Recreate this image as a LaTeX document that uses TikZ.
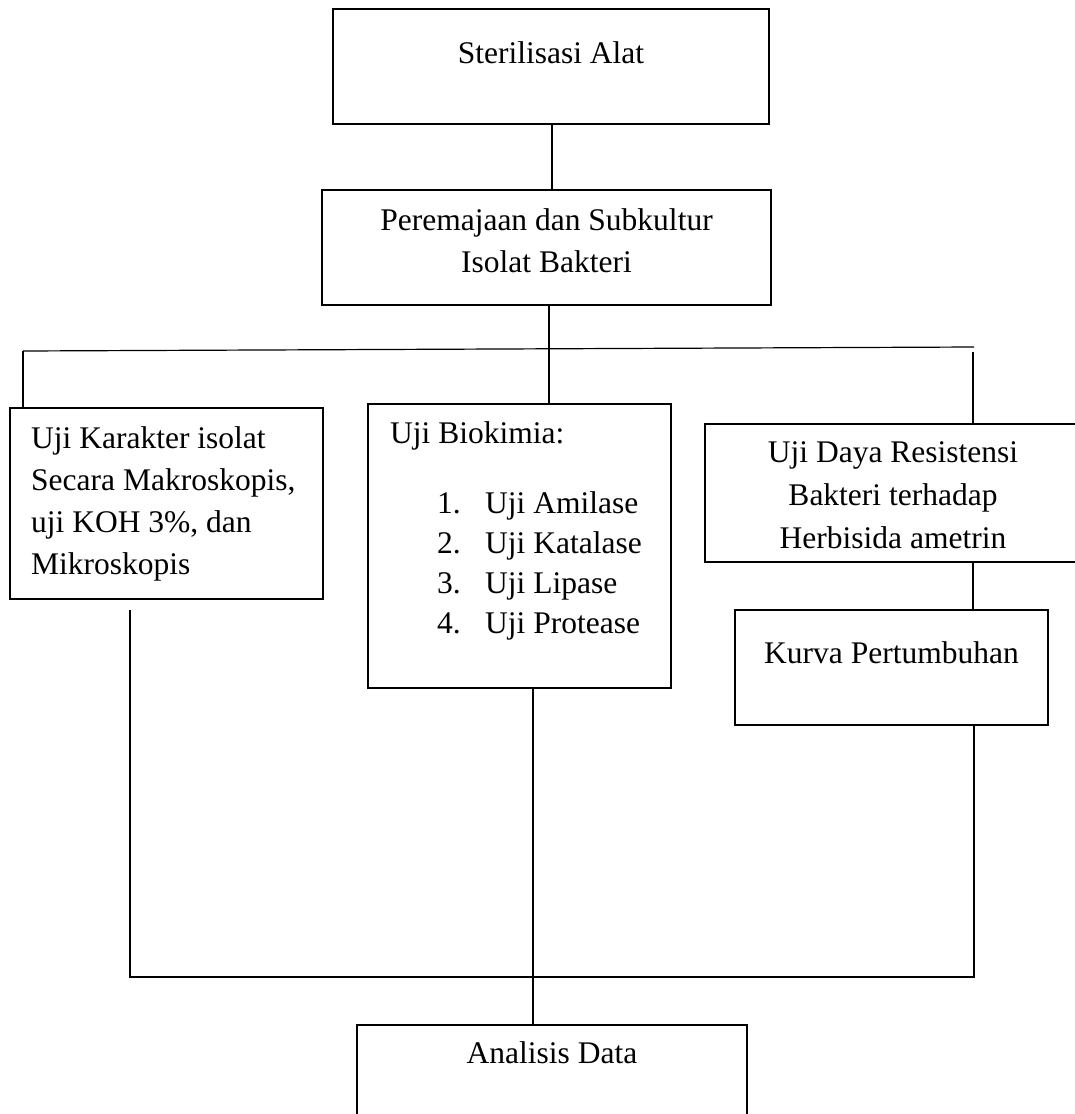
\documentclass[tikz,border=0pt]{standalone}
\usepackage{fontspec}
\setmainfont{Liberation Serif}
\begin{document}
\begin{tikzpicture}[x=1pt,y=-1pt,
  box/.style={draw, line width=1.2pt, inner sep=0pt, outer sep=0pt, anchor=north west},
  txt/.style={inner sep=0pt, font=\fontsize{31.5}{42}\selectfont},
  lt/.style={txt, anchor=base west},
  ct/.style={txt, anchor=base},
  conn/.style={line width=1.2pt}]
\useasboundingbox (0,0) rectangle (1075,1114);
\clip (0,0) rectangle (1075,1114);
% boxes
\node[box, minimum width=436pt, minimum height=115pt] (b1) at (333,9) {};
\node[box, minimum width=449pt, minimum height=115pt] (b2) at (322,190) {};
\node[box, minimum width=313pt, minimum height=191pt] (b3) at (10,408) {};
\node[box, minimum width=303pt, minimum height=284pt] (b4) at (368,404) {};
\node[box, minimum width=376pt, minimum height=138pt] (b5) at (705,424) {};
\node[box, minimum width=313pt, minimum height=115pt] (b6) at (735,610) {};
\node[box, minimum width=390pt, minimum height=110pt] (b7) at (357,1025) {};
% texts
\node[ct] (t1) at (551,63) {Sterilisasi Alat};
\node[ct] (t2a) at (546.5,230) {Peremajaan dan Subkultur};
\node[ct] (t2b) at (546.5,272) {Isolat Bakteri};
\node[lt] (t3a) at (31,448) {Uji Karakter isolat};
\node[lt] (t3b) at (31,490) {Secara Makroskopis,};
\node[lt] (t3c) at (31,532) {uji KOH 3\%, dan};
\node[lt] (t3d) at (31,574) {Mikroskopis};
\node[lt] (t4) at (390,443) {Uji Biokimia:};
\node[lt] (n1) at (437,513) {1.};
\node[lt] (i1) at (485,513) {Uji Amilase};
\node[lt] (n2) at (437,553) {2.};
\node[lt] (i2) at (485,553) {Uji Katalase};
\node[lt] (n3) at (437,593) {3.};
\node[lt] (i3) at (485,593) {Uji Lipase};
\node[lt] (n4) at (437,633) {4.};
\node[lt] (i4) at (485,633) {Uji Protease};
\node[ct] (t5a) at (893,462) {Uji Daya Resistensi};
\node[ct] (t5b) at (893,505) {Bakteri terhadap};
\node[ct] (t5c) at (893,548) {Herbisida ametrin};
\node[ct] (t6) at (891.5,663) {Kurva Pertumbuhan};
\node[ct] (t7) at (552,1063) {Analisis Data};
% bus coordinates
\coordinate (bL) at (23,351);
\coordinate (bM) at (549,349);
\coordinate (bR) at (974,347);
\coordinate (bR2) at (973,352);
\coordinate (lTop) at (130,610);
\coordinate (cL) at (130,977);
\coordinate (cM) at (533,977);
\coordinate (cR) at (974,977);
% connectors
\draw[conn] (b1.south -| 552,0) -- (b2.north -| 552,0);
\draw[conn] (b2.south -| bM) -- (bM);
\draw[conn] (bL) -- (bR);
\draw[conn] (bL) -- (bL |- b3.north);
\draw[conn] (bM) -- (bM |- b4.north);
\draw[conn] (bR2) -- (bR2 |- b5.north);
\draw[conn] (b5.south -| bR2) -- (b6.north -| bR2);
\draw[conn] (lTop) -- (cL) -- (cR) -- (cR |- b6.south);
\draw[conn] (b4.south -| cM) -- (cM) -- (b7.north -| cM);
\end{tikzpicture}
\end{document}
